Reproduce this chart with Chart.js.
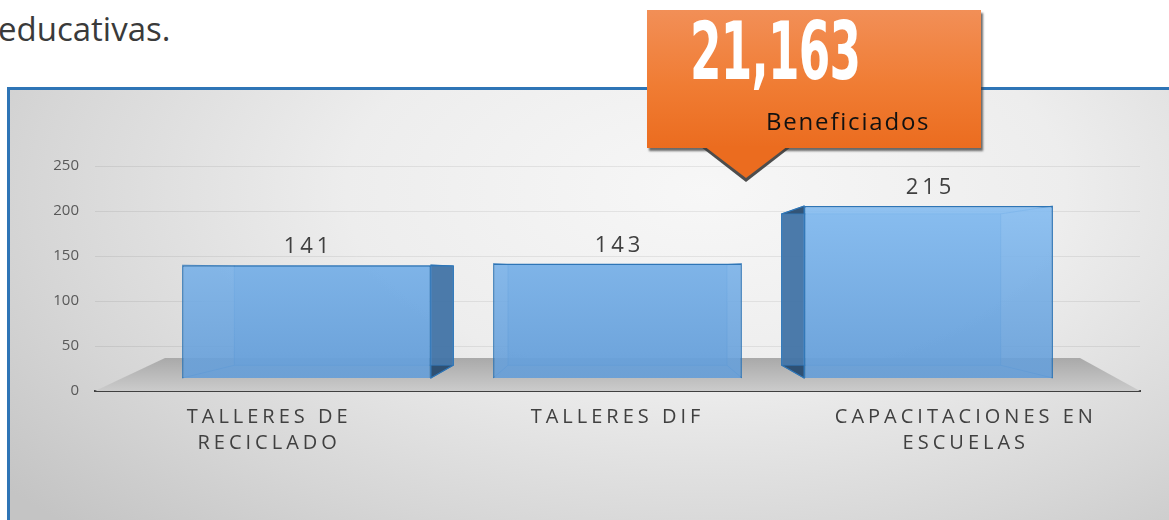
<!DOCTYPE html>
<html><head><meta charset="utf-8">
<script src="https://cdn.jsdelivr.net/npm/chart.js@4.4.1/dist/chart.umd.min.js"></script>
<style>
html,body{margin:0;padding:0;background:#fff;}
#wrap{position:relative;width:1169px;height:520px;overflow:hidden;}
#title{position:absolute;left:-2px;top:12px;font:400 33px/33px 'Open Sans',sans-serif;color:#3a3a3a;white-space:nowrap;}
#frame{position:absolute;left:7px;top:87px;width:1200px;height:500px;border:3px solid #2e75b6;
  background:radial-gradient(ellipse 75% 95% at 58% 20%, #f7f7f7 0%, #ededed 40%, #d6d6d6 75%, #c4c4c4 100%);}
#cv{position:absolute;left:0;top:0;}
#shadowTri{position:absolute;left:701px;top:147px;width:90px;height:35px;background:#4d4d4d;clip-path:polygon(0 0,100% 0,50% 100%);}
#tri{position:absolute;left:704px;top:146px;width:84px;height:32px;background:#eb6c1f;clip-path:polygon(0 0,100% 0,50% 100%);}
#callout{position:absolute;left:647px;top:10px;width:334px;height:138px;background:linear-gradient(#f28f57,#f07c33 55%,#eb6c1f);box-shadow:2px 3px 2px rgba(60,60,60,0.75);}
#big{position:absolute;left:690px;top:12px;font:700 68px/68px 'DejaVu Sans Condensed','DejaVu Sans',sans-serif;color:#fff;transform:scale(0.74,1.18);transform-origin:0 0;white-space:nowrap;letter-spacing:-1px;}
#benef{position:absolute;left:766px;top:109px;font:400 24px/24px 'Open Sans',sans-serif;color:#111;letter-spacing:1.8px;white-space:nowrap;}
</style></head>
<body>
<div id="wrap">
  <div id="title">educativas.</div>
  <div id="frame"></div>
  <canvas id="cv" width="1169" height="520"></canvas>
  <div id="shadowTri"></div>
  <div id="callout"></div>
  <div id="tri"></div>
  <div id="big">21,163</div>
  <div id="benef">Beneficiados</div>
</div>
<script>
const categories = [['TALLERES DE','RECICLADO'], ['TALLERES DIF'], ['CAPACITACIONES EN','ESCUELAS']];
const values = [141, 143, 215];
const yMin = 0, yMax = 250, yStep = 50;
// front plane of the 3D bars (hidden axes): perspective makes it smaller than the axis plane
const frontMin = -16.25, frontMax = 265;
const frontInset = 56;

const scene3d = {
  id:'scene3d',
  afterLayout(chart){
    const s = chart.scales.frontX;
    s.left += frontInset; s.right -= frontInset; s.width = s.right - s.left;
    s.configure();
  },
  beforeDraw(chart){ chart.ctx.letterSpacing = '0px'; },
  beforeDatasetsDraw(chart){
    const {ctx, chartArea:a, scales:{y}} = chart;
    const y0 = y.getPixelForValue(0);
    ctx.save();
    const g = ctx.createLinearGradient(0, y0-33, 0, y0);
    g.addColorStop(0,'#a9a9a9'); g.addColorStop(1,'#cbcbcb');
    ctx.fillStyle = g;
    ctx.beginPath();
    ctx.moveTo(a.left, y0); ctx.lineTo(a.right, y0);
    ctx.lineTo(a.right-60, y0-33); ctx.lineTo(a.left+70, y0-33);
    ctx.closePath(); ctx.fill();
    const vx = (a.left+a.right)/2, vy = a.top + (a.bottom-a.top)*0.47, s = 0.88;
    const P = (px,py)=>[vx+(px-vx)*s, vy+(py-vy)*s];
    const meta = chart.getDatasetMeta(0);
    meta.data.forEach(b=>{
      const L=b.x-b.width/2, R=b.x+b.width/2, T=b.y, B=b.base;
      const [bl,bt]=P(L,T), [br,bb]=P(R,B);
      ctx.fillStyle='rgba(35,72,110,0.93)';
      ctx.strokeStyle='#2e75b6'; ctx.lineWidth=1.2;
      if (br > R){
        ctx.beginPath(); ctx.moveTo(R,T); ctx.lineTo(br,bt); ctx.lineTo(br,bb); ctx.lineTo(R,B); ctx.closePath(); ctx.fill(); ctx.stroke();
      }
      if (bl < L){
        ctx.beginPath(); ctx.moveTo(L,T); ctx.lineTo(bl,bt); ctx.lineTo(bl,bb); ctx.lineTo(L,B); ctx.closePath(); ctx.fill(); ctx.stroke();
      }
      ctx.fillStyle='rgba(100,160,220,0.5)';
      ctx.fillRect(bl,bt,br-bl,bb-bt);
      ctx.strokeStyle='rgba(46,117,182,0.7)'; ctx.lineWidth=1;
      ctx.strokeRect(bl,bt,br-bl,bb-bt);
      ctx.beginPath();
      ctx.moveTo(L,T); ctx.lineTo(bl,bt); ctx.moveTo(R,T); ctx.lineTo(br,bt);
      ctx.moveTo(L,B); ctx.lineTo(bl,bb); ctx.moveTo(R,B); ctx.lineTo(br,bb);
      ctx.stroke();
    });
    ctx.restore();
  },
  afterDatasetsDraw(chart){
    const ctx = chart.ctx; const meta = chart.getDatasetMeta(0);
    ctx.save();
    ctx.font = '22px "Open Sans"'; ctx.letterSpacing = '4px';
    ctx.fillStyle = '#404040'; ctx.textAlign = 'center'; ctx.textBaseline = 'alphabetic';
    meta.data.forEach((b,i)=>{ ctx.fillText(String(values[i]), b.x+2, b.y-12); });
    ctx.restore();
    ctx.letterSpacing = '4px';
  }
};

new Chart(document.getElementById('cv'), {
  type:'bar',
  data:{ labels:categories, datasets:[{
    data:values,
    xAxisID:'frontX', yAxisID:'front',
    backgroundColor:(c)=>{
      const ch=c.chart, a=ch.chartArea; if(!a) return '#6fa6dc';
      const g=ch.ctx.createLinearGradient(0,a.top,0,a.bottom);
      g.addColorStop(0,'rgba(140,195,246,0.9)'); g.addColorStop(1,'rgba(98,155,214,0.9)');
      return g;
    },
    borderColor:'#2e75b6', borderWidth:1.5,
    categoryPercentage:1, barPercentage:0.80
  }]},
  options:{
    responsive:false, animation:false,
    layout:{padding:{top:166,right:29,left:0,bottom:0}},
    plugins:{legend:{display:false}, tooltip:{enabled:false}},
    scales:{
      x:{ grid:{display:false,drawTicks:false}, border:{display:true,color:'#404040',width:2},
          ticks:{z:1,color:'#404040',font:{family:'Open Sans',size:20,lineHeight:1.3},padding:13,maxRotation:0,autoSkip:false},
          afterFit(s){ s.height = 129; } },
      frontX:{ type:'category', display:false, position:'bottom' },
      y:{ min:yMin, max:yMax,
          ticks:{stepSize:yStep,color:'#595959',font:{family:'Open Sans',size:15},padding:16},
          grid:{color:(c)=>c.tick.value===0?'rgba(0,0,0,0)':'rgba(0,0,0,0.07)',drawTicks:false},
          border:{display:false},
          afterFit(s){ s.width = 95; } },
      front:{ display:false, min:frontMin, max:frontMax }
    }
  },
  plugins:[scene3d]
});
</script>
</body></html>
